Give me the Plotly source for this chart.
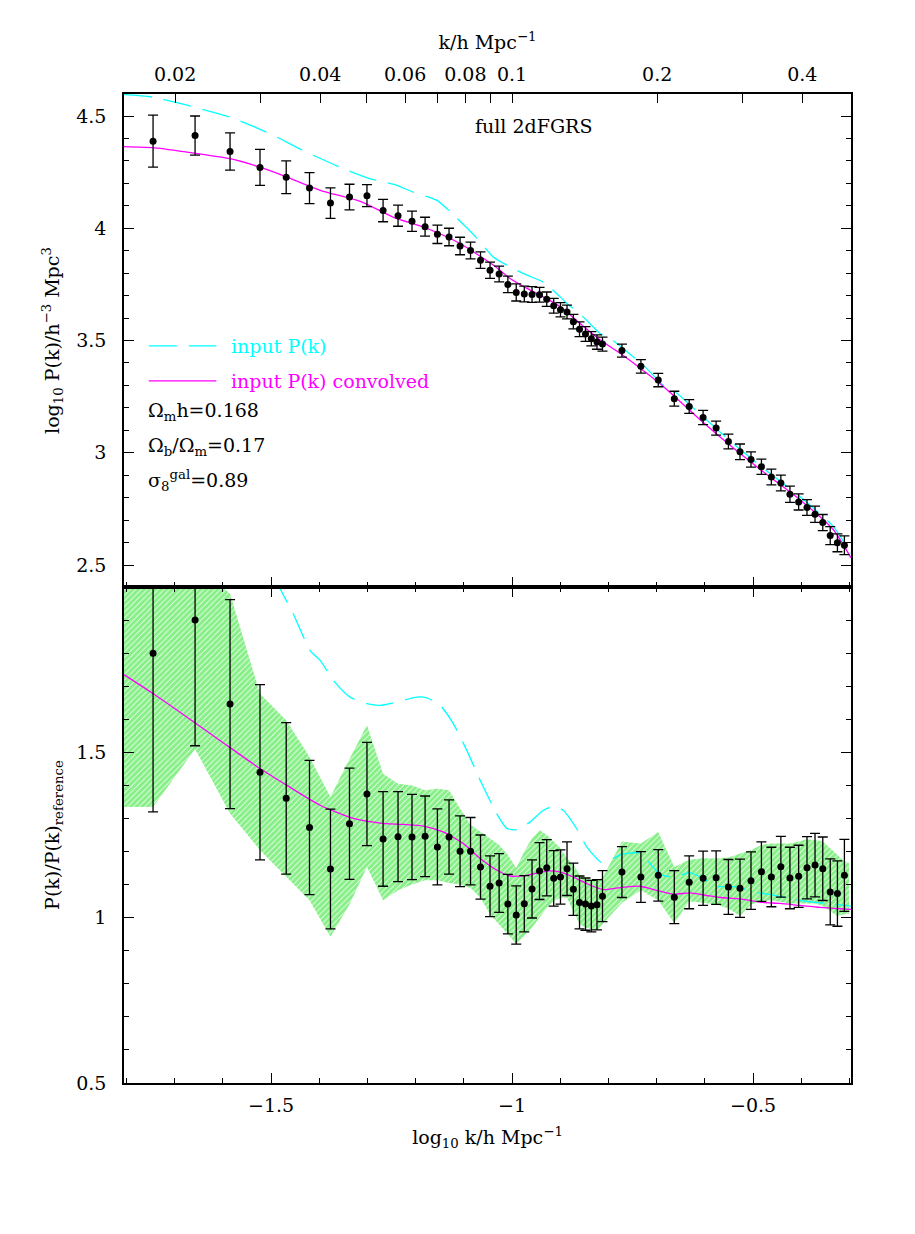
import numpy as np
import plotly.graph_objects as go

# band-power centres, k in h/Mpc
k = [0.018, 0.022, 0.026, 0.030, 0.034, 0.038, 0.042, 0.046, 0.050, 0.054,
     0.058, 0.062, 0.066, 0.070, 0.074, 0.078, 0.082, 0.086, 0.090, 0.094,
     0.098, 0.102, 0.106, 0.110, 0.114, 0.118, 0.122, 0.126, 0.130, 0.134,
     0.138, 0.142, 0.146, 0.150, 0.154, 0.169, 0.185, 0.201, 0.217, 0.233,
     0.249, 0.265, 0.281, 0.297, 0.313, 0.329, 0.345, 0.361, 0.377, 0.393,
     0.409, 0.425, 0.441, 0.457, 0.473, 0.489]

# top panel: log10 P(k)
logP = [4.388, 4.413, 4.342, 4.271, 4.227, 4.179, 4.112, 4.139, 4.145, 4.079,
        4.056, 4.031, 4.007, 3.973, 3.961, 3.921, 3.901, 3.858, 3.813, 3.796,
        3.750, 3.714, 3.707, 3.705, 3.704, 3.684, 3.655, 3.637, 3.627, 3.584,
        3.550, 3.529, 3.508, 3.493, 3.484, 3.455, 3.385, 3.324, 3.241, 3.206,
        3.157, 3.110, 3.050, 3.004, 2.970, 2.938, 2.892, 2.865, 2.815, 2.781,
        2.756, 2.726, 2.689, 2.631, 2.599, 2.588]
logP_err = [0.116, 0.087, 0.083, 0.080, 0.073, 0.069, 0.068, 0.057, 0.049, 0.050,
            0.047, 0.045, 0.042, 0.041, 0.039, 0.039, 0.037, 0.037, 0.036, 0.035,
            0.037, 0.038, 0.035, 0.035, 0.033, 0.032, 0.033, 0.032, 0.031, 0.032,
            0.033, 0.033, 0.032, 0.032, 0.031, 0.029, 0.030, 0.030, 0.033, 0.031,
            0.032, 0.031, 0.033, 0.035, 0.034, 0.034, 0.035, 0.035, 0.036, 0.036,
            0.035, 0.036, 0.036, 0.040, 0.040, 0.042]

# bottom panel: P(k)/P(k)_reference
ratio = [1.800, 1.900, 1.646, 1.440, 1.361, 1.273, 1.147, 1.284, 1.374, 1.238,
         1.245, 1.244, 1.246, 1.214, 1.244, 1.201, 1.201, 1.153, 1.095, 1.105,
         1.041, 1.008, 1.042, 1.087, 1.141, 1.151, 1.119, 1.123, 1.148, 1.086,
         1.046, 1.041, 1.035, 1.039, 1.065, 1.138, 1.123, 1.128, 1.062, 1.107,
         1.119, 1.121, 1.093, 1.089, 1.112, 1.139, 1.123, 1.154, 1.120, 1.125,
         1.151, 1.159, 1.148, 1.078, 1.073, 1.128]
ratio_err = [0.480, 0.380, 0.316, 0.265, 0.229, 0.203, 0.181, 0.168, 0.156, 0.143,
             0.136, 0.129, 0.122, 0.115, 0.112, 0.107, 0.102, 0.097, 0.092, 0.089,
             0.090, 0.088, 0.085, 0.088, 0.086, 0.085, 0.084, 0.082, 0.081, 0.079,
             0.080, 0.079, 0.078, 0.076, 0.077, 0.077, 0.077, 0.078, 0.080, 0.080,
             0.082, 0.081, 0.083, 0.088, 0.087, 0.090, 0.090, 0.092, 0.093, 0.094,
             0.094, 0.096, 0.096, 0.100, 0.099, 0.109]

# hatched band (mock scatter), one extra node beyond each end
band_k = [0.014] + k + [0.50]
band_lo = [1.335,
           1.335, 1.510, 1.315, 1.204, 1.123, 1.053, 0.942, 1.040, 1.153, 1.053,
           1.083, 1.100, 1.113, 1.113, 1.105, 1.100, 1.090, 1.060, 1.010, 0.980,
           0.950, 0.920, 0.945, 0.970, 1.000, 1.030, 1.050, 1.060, 1.060, 1.020,
           0.980, 0.970, 0.965, 0.962, 0.980, 1.045, 1.083, 1.053, 0.983, 1.050,
           1.045, 1.040, 1.028, 1.005, 1.040, 1.050, 1.053, 1.048, 1.043, 1.043,
           1.043, 1.043, 1.035, 1.020, 1.005, 1.010,
           1.012]
band_hi = [2.300,
           2.300, 2.070, 1.980, 1.677, 1.597, 1.486, 1.365, 1.480, 1.582, 1.435,
           1.405, 1.400, 1.385, 1.390, 1.385, 1.330, 1.280, 1.260, 1.240, 1.220,
           1.190, 1.150, 1.200, 1.240, 1.265, 1.250, 1.230, 1.210, 1.180, 1.160,
           1.130, 1.120, 1.115, 1.113, 1.120, 1.230, 1.224, 1.259, 1.153, 1.175,
           1.180, 1.179, 1.182, 1.195, 1.205, 1.220, 1.224, 1.224, 1.224, 1.230,
           1.237, 1.235, 1.230, 1.210, 1.190, 1.170,
           1.165]

# model curves, top panel (log10 k, log10 P)
in_top_x = [-1.805, -1.745, -1.585, -1.502, -1.434, -1.357, -1.295, -1.245, -1.205, -1.156,
            -1.114, -1.073, -1.039, -1.004, -0.969, -0.936, -0.915, -0.886, -0.853, -0.817,
            -0.790, -0.749, -0.728, -0.687, -0.658, -0.624, -0.541, -0.471, -0.403, -0.334, -0.297]
in_top_y = [4.595, 4.584, 4.495, 4.421, 4.347, 4.272, 4.221, 4.195, 4.161, 4.124,
            4.044, 3.956, 3.872, 3.828, 3.791, 3.761, 3.724, 3.665, 3.606, 3.530,
            3.499, 3.428, 3.391, 3.302, 3.265, 3.199, 3.040, 2.918, 2.805, 2.672, 2.552]
cv_top_x = [-1.805, -1.745, -1.674, -1.585, -1.523, -1.467, -1.398, -1.315, -1.247, -1.176,
            -1.108, -1.039, -1.004, -0.969, -0.936, -0.900, -0.859, -0.817, -0.776, -0.734,
            -0.678, -0.610, -0.541, -0.471, -0.403, -0.334, -0.297]
cv_top_y = [4.364, 4.359, 4.339, 4.310, 4.272, 4.228, 4.169, 4.120, 4.050, 3.999,
            3.932, 3.836, 3.776, 3.732, 3.695, 3.650, 3.576, 3.502, 3.443, 3.376,
            3.280, 3.147, 3.021, 2.902, 2.791, 2.658, 2.532]

# model curves, bottom panel (log10 k, ratio)
in_bot_x = [-1.490, -1.481, -1.454, -1.419, -1.398, -1.371, -1.336, -1.301, -1.274, -1.239,
            -1.198, -1.177, -1.149, -1.122, -1.094, -1.066, -1.032, -1.011, -0.990, -0.963,
            -0.935, -0.914, -0.894, -0.866, -0.845, -0.817, -0.804, -0.776, -0.734, -0.714,
            -0.693, -0.665, -0.631, -0.603, -0.575, -0.534, -0.499, -0.458, -0.416, -0.375,
            -0.333, -0.297]
in_bot_y = [2.030, 1.995, 1.919, 1.808, 1.778, 1.718, 1.667, 1.647, 1.642, 1.652,
            1.667, 1.665, 1.642, 1.587, 1.506, 1.415, 1.315, 1.270, 1.266, 1.289,
            1.325, 1.337, 1.325, 1.269, 1.214, 1.169, 1.169, 1.190, 1.196, 1.164,
            1.131, 1.123, 1.136, 1.118, 1.095, 1.093, 1.078, 1.068, 1.055, 1.047,
            1.041, 1.035]
cv_bot_x = [-1.805, -1.744, -1.675, -1.606, -1.523, -1.467, -1.398, -1.329, -1.274, -1.226,
            -1.184, -1.142, -1.101, -1.066, -1.032, -1.004, -0.970, -0.928, -0.900, -0.873,
            -0.845, -0.811, -0.776, -0.734, -0.707, -0.665, -0.631, -0.596, -0.568, -0.527,
            -0.486, -0.444, -0.403, -0.361, -0.320, -0.297]
cv_bot_y = [1.735, 1.677, 1.607, 1.536, 1.451, 1.400, 1.340, 1.300, 1.286, 1.282,
            1.277, 1.259, 1.224, 1.179, 1.144, 1.126, 1.128, 1.141, 1.138, 1.123,
            1.103, 1.085, 1.091, 1.095, 1.085, 1.071, 1.075, 1.067, 1.061, 1.057,
            1.047, 1.043, 1.037, 1.031, 1.027, 1.025]

top_k_ticks = [0.02, 0.03, 0.04, 0.05, 0.06, 0.07, 0.08, 0.09, 0.1, 0.2, 0.3, 0.4]
top_k_labels = ["0.02", "", "0.04", "", "0.06", "", "0.08", "", "0.1", "0.2", "", "0.4"]

CYAN = "#00ffff"
MAGENTA = "#ff00ff"
GREEN = "#10e010"
FONT = "DejaVu Serif"
FS = 19

logk = np.log10(k)
band_logk = np.log10(band_k)

fig = go.Figure()

# hatched band in the ratio panel
fig.add_trace(go.Scatter(x=band_logk, y=band_lo, mode="lines", line=dict(width=0),
                         xaxis="x", yaxis="y", showlegend=False, hoverinfo="skip"))
fig.add_trace(go.Scatter(x=band_logk, y=band_hi, mode="lines", line=dict(width=0),
                         fill="tonexty", fillcolor="rgba(0,0,0,0)",
                         fillpattern=dict(shape="/", fgcolor=GREEN, bgcolor="rgba(255,255,255,0)",
                                          size=4, solidity=0.8),
                         xaxis="x", yaxis="y", showlegend=False, hoverinfo="skip"))

# curves
fig.add_trace(go.Scatter(x=in_bot_x, y=in_bot_y, mode="lines",
                         line=dict(color=CYAN, width=1.3, dash="28px,12px", shape="spline", smoothing=0.6),
                         xaxis="x", yaxis="y", showlegend=False))
fig.add_trace(go.Scatter(x=cv_bot_x, y=cv_bot_y, mode="lines",
                         line=dict(color=MAGENTA, width=1.3, shape="spline", smoothing=0.6),
                         xaxis="x", yaxis="y", showlegend=False))
fig.add_trace(go.Scatter(x=in_top_x, y=in_top_y, mode="lines",
                         line=dict(color=CYAN, width=1.3, dash="28px,12px", shape="spline", smoothing=0.6),
                         xaxis="x2", yaxis="y2", showlegend=False))
fig.add_trace(go.Scatter(x=cv_top_x, y=cv_top_y, mode="lines",
                         line=dict(color=MAGENTA, width=1.3, shape="spline", smoothing=0.6),
                         xaxis="x2", yaxis="y2", showlegend=False))

# data points
fig.add_trace(go.Scatter(x=logk, y=ratio, mode="markers",
                         marker=dict(color="black", size=7),
                         error_y=dict(type="data", array=ratio_err, color="black",
                                      thickness=1.3, width=5),
                         xaxis="x", yaxis="y", showlegend=False))
fig.add_trace(go.Scatter(x=logk, y=logP, mode="markers",
                         marker=dict(color="black", size=7),
                         error_y=dict(type="data", array=logP_err, color="black",
                                      thickness=1.3, width=5),
                         xaxis="x2", yaxis="y2", showlegend=False))

# carrier for the top k axis
fig.add_trace(go.Scatter(x=[0.1], y=[3.0], mode="markers", marker=dict(opacity=0),
                         xaxis="x3", yaxis="y2", showlegend=False, hoverinfo="skip"))

xr = [-1.805, -0.297]
split = 0.5015
tickfont = dict(family=FONT, size=FS, color="black")
titlefont = dict(family=FONT, size=FS, color="black")
axis_common = dict(showline=True, linecolor="black", linewidth=1.5, ticks="inside",
                   tickcolor="black", tickwidth=1.2, showgrid=False, zeroline=False,
                   tickfont=tickfont)
minor = dict(dtick=0.1, tick0=0, ticklen=5, ticks="inside", tickcolor="black")

# page is drawn with an 8px body margin, so the figure is shrunk to fit the window
fig.update_layout(
    width=899, height=1218,
    margin=dict(l=116, r=56, t=86, b=143),
    paper_bgcolor="white", plot_bgcolor="white",
    font=dict(family=FONT, size=FS, color="black"),
    xaxis=dict(axis_common, domain=[0, 1], anchor="y", range=xr, mirror="ticks",
               tickvals=[-1.5, -1.0, -0.5], ticktext=["\u22121.5", "\u22121", "\u22120.5"],
               ticklen=10, ticklabelstandoff=4, minor=minor,
               title=dict(text="log<sub>10</sub> k/h Mpc<sup>\u22121</sup>", standoff=16,
                          font=titlefont)),
    yaxis=dict(axis_common, domain=[0, split], anchor="x", range=[0.5, 2.0], mirror="ticks",
               tickvals=[0.5, 1.0, 1.5], ticktext=["0.5", "1", "1.5"], ticklen=10,
               ticklabelstandoff=12, minor=minor,
               title=dict(text="P(k)/P(k)<sub>reference</sub>", standoff=12, font=titlefont)),
    xaxis2=dict(axis_common, domain=[0, 1], anchor="y2", range=xr, mirror=True,
                showticklabels=False, tickvals=[-1.5, -1.0, -0.5], ticklen=10, minor=minor),
    xaxis3=dict(overlaying="x2", anchor="y2", side="top", type="log", range=xr,
                showline=False, showgrid=False, zeroline=False, ticks="inside",
                tickcolor="black", tickwidth=1.2, ticklen=9,
                tickvals=top_k_ticks, ticktext=top_k_labels, tickfont=tickfont,
                ticklabelstandoff=8,
                title=dict(text="k/h Mpc<sup>\u22121</sup>", standoff=8, font=titlefont)),
    yaxis2=dict(axis_common, domain=[split, 1], anchor="x2", range=[2.402, 4.598], mirror="ticks",
                tickvals=[2.5, 3.0, 3.5, 4.0, 4.5], ticktext=["2.5", "3", "3.5", "4", "4.5"],
                ticklen=10, ticklabelstandoff=12, minor=minor,
                title=dict(text="log<sub>10</sub> P(k)/h<sup>\u22123</sup> Mpc<sup>3</sup>", standoff=12,
                           font=titlefont)),
)

# legend and labels inside the top panel
fig.add_shape(type="line", xref="x2 domain", yref="y2 domain", x0=0.034, x1=0.127,
              y0=0.489, y1=0.489, line=dict(color=CYAN, width=1.3, dash="28px,12px"))
fig.add_shape(type="line", xref="x2 domain", yref="y2 domain", x0=0.034, x1=0.127,
              y0=0.418, y1=0.418, line=dict(color=MAGENTA, width=1.3))

notes = [
    (0.144, 0.489, "input P(k)", CYAN),
    (0.144, 0.418, "input P(k) convolved", MAGENTA),
    (0.030, 0.357, "\u03a9<sub>m</sub>h=0.168", "black"),
    (0.030, 0.286, "\u03a9<sub>b</sub>/\u03a9<sub>m</sub>=0.17", "black"),
    (0.030, 0.217, "\u03c3<sub>8</sub><sup>gal</sup>=0.89", "black"),
    (0.480, 0.935, "full 2dFGRS", "black"),
]
for nx, ny, txt, col in notes:
    fig.add_annotation(xref="x2 domain", yref="y2 domain", x=nx, y=ny, text=txt,
                       showarrow=False, xanchor="left", yanchor="middle",
                       font=dict(family=FONT, size=FS, color=col))

fig.write_html("out.html")
